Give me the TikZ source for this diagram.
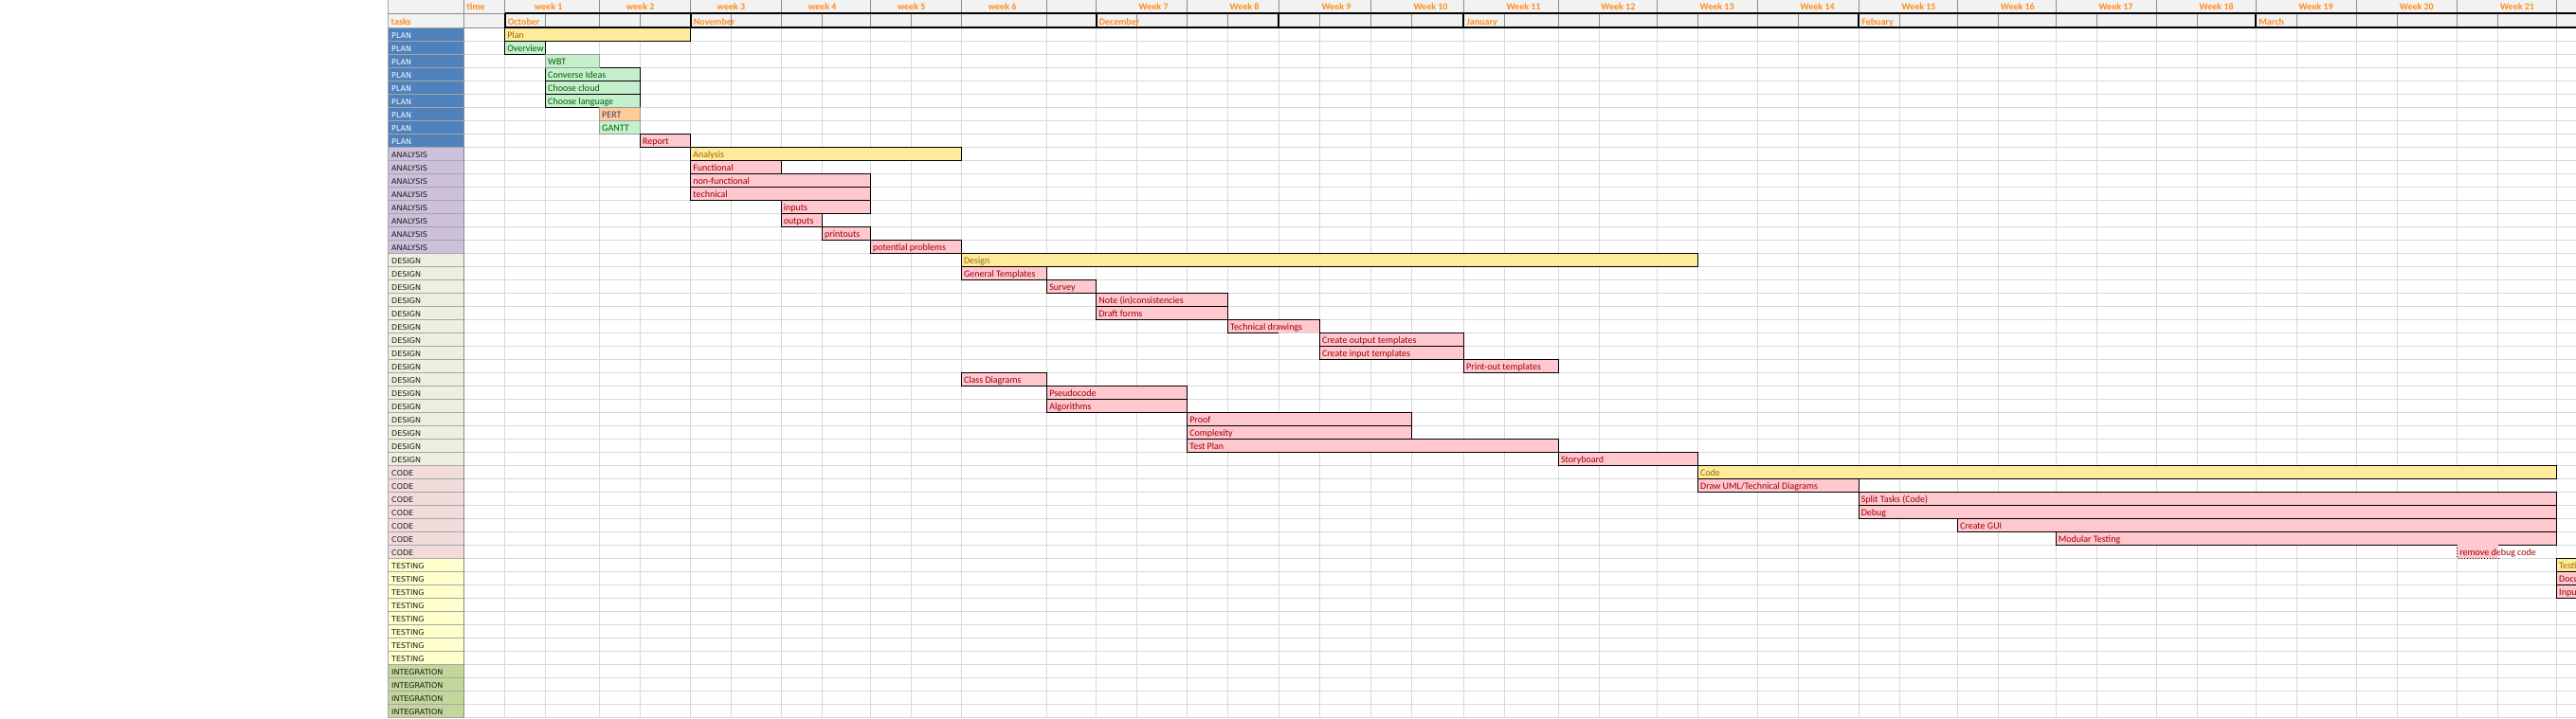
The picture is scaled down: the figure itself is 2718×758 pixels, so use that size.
\documentclass[tikz,border=0pt]{standalone}
\usepackage{fontspec}
\setmainfont{Carlito}
\newfontfamily\catfont{DejaVu Sans}

\definecolor{hdrF}{HTML}{F2F2F2}
\definecolor{hdrT}{HTML}{FF8C1A}
\definecolor{hdrc}{HTML}{8C8C8C}
\definecolor{gridc}{HTML}{D9D9D9}
\definecolor{catline}{HTML}{A6A6A6}
\definecolor{softc}{HTML}{9A9A9A}
\definecolor{yelF}{HTML}{FFEB9C}
\definecolor{yelT}{HTML}{9C6500}
\definecolor{pinkF}{HTML}{FFC7CE}
\definecolor{pinkT}{HTML}{9C0006}
\definecolor{grnF}{HTML}{C6EFCE}
\definecolor{grnT}{HTML}{006100}
\definecolor{orgF}{HTML}{FFCC99}
\definecolor{orgT}{HTML}{3F3F76}
\definecolor{planF}{HTML}{4F81BD}
\definecolor{anaF}{HTML}{CCC0DA}
\definecolor{desF}{HTML}{EBF1DE}
\definecolor{codeF}{HTML}{F2DCDB}
\definecolor{testF}{HTML}{FFFFCC}
\definecolor{intF}{HTML}{C4D79B}
\definecolor{catT}{HTML}{1A1A1A}

% column edges of the week grid (pixels)
\newcommand{\weekcols}{532.6,575.5,632.5,675.5,728.6,771.4,824.1,867.4,918.3,961.6,
  1014.3,1104.6,1156.6,1199.5,1252.6,1295.4,1349.3,1392.3,1446.5,1489.3,1544.4,1587.3,
  1644.4,1687.2,1748.5,1791.4,1854.3,1897.5,1961.1,2004.3,2065.4,2108.6,2169.1,2212.3,
  2275.3,2318.5,2380.2,2423.5,2486.4,2529.6,2592.6,2635.8,2697.5}

\begin{document}
\begin{tikzpicture}[x=1pt, y=-1pt,
    gridline/.style={draw=gridc, line width=1pt},
    hdrline/.style={draw=hdrc, line width=1pt},
    monthline/.style={draw=black, line width=2pt},
    hdrtext/.style={text=hdrT, font=\bfseries\fontsize{10}{12}\selectfont, inner sep=0pt},
    catcell/.style={draw=catline, line width=1pt},
    catlabel/.style={font=\catfont\fontsize{8}{10}\selectfont, inner sep=0pt, anchor=base west},
    bar/.style={draw=black, line width=1.1pt},
    softbar/.style={draw=softc, line width=1pt},
    bartext/.style={font=\fontsize{10}{12}\selectfont, inner sep=0pt, anchor=base west}
]
    \useasboundingbox (0,0) rectangle (2718,758);
    \clip (0,0) rectangle (2718,758);
    \fill[white] (0,0) rectangle (2718,758);

    % header rows
    \fill[hdrF] (409.8,0) rectangle (2718,29.3);
    \draw[hdrline] (409.8,14) -- (532.6,14);
    \draw[hdrline] (409.8,29.3) -- (532.6,29.3);

    % sheet grid
    \foreach \k in {1,...,52}
        \draw[gridline] (489.3,{29.3+14*\k}) -- (2718,{29.3+14*\k});
    \foreach \x in \weekcols
        \draw[gridline] (\x,29.3) -- (\x,758);
    \foreach \x in \weekcols
        \draw[hdrline] (\x,14) -- (\x,29.3);
    \foreach \x in {409.8,489.3,532.6,632.5,728.6,824.1,918.3,1014.3,1104.6,1156.6,1252.6,
        1349.3,1446.5,1544.4,1644.4,1748.5,1854.3,1961.1,2065.4,2169.1,2275.3,2380.2,
        2486.4,2592.6,2697.5}
        \draw[hdrline] (\x,0) -- (\x,14);
    \draw[hdrline] (489.3,14) -- (489.3,29.3);
    \draw[catline, line width=1pt] (409.8,0) -- (409.8,758);

    % task categories
    \foreach \cat/\first/\last/\fc/\tc in {PLAN/0/8/planF/white, ANALYSIS/9/16/anaF/catT,
        DESIGN/17/32/desF/catT, CODE/33/39/codeF/catT, TESTING/40/47/testF/catT,
        INTEGRATION/48/51/intF/catT}
        \foreach \rw in {\first,...,\last} {
            \draw[catcell, fill=\fc] (409.8,{29.3+14*\rw}) rectangle (489.3,{43.3+14*\rw});
            \node[catlabel, text=\tc] (cat\rw) at (413,{40+14*\rw}) {\cat};
        }
    \draw[draw=hdrc, line width=1pt] (489.3,29.3) -- (489.3,758);

    % summary bars
    \foreach \rw/\xa/\xb/\task [count=\n] in {0/532.6/728.6/Plan, 9/728.6/1014.3/Analysis,
        17/1014.3/1791.4/Design, 33/1791.4/2697.5/Code, 40/2697.5/2760/Testi} {
        \draw[bar, fill=yelF] (\xa,{29.3+14*\rw}) rectangle (\xb,{43.3+14*\rw});
        \node[bartext, text=yelT] (sum\n) at (\xa+2.5,{40.5+14*\rw}) {\task};
    }

    % planning tasks
    \foreach \rw/\xa/\xb/\task [count=\n] in {1/532.6/575.5/Overview,
        3/575.5/675.5/Converse Ideas, 4/575.5/675.5/Choose cloud,
        5/575.5/675.5/Choose language} {
        \draw[bar, fill=grnF] (\xa,{29.3+14*\rw}) rectangle (\xb,{43.3+14*\rw});
        \node[bartext, text=grnT] (good\n) at (\xa+2.5,{40.5+14*\rw}) {\task};
    }
    \foreach \rw/\xa/\xb/\fc/\tc/\task [count=\n] in {2/575.5/632.5/grnF/grnT/WBT,
        6/632.5/675.5/orgF/orgT/PERT, 7/632.5/675.5/grnF/grnT/GANTT} {
        \draw[softbar, fill=\fc] (\xa,{29.3+14*\rw}) rectangle (\xb,{43.3+14*\rw});
        \node[bartext, text=\tc] (soft\n) at (\xa+2.5,{40.5+14*\rw}) {\task};
    }

    % work items
    \foreach \rw/\xa/\xb/\task [count=\n] in {8/675.5/728.6/Report,
        10/728.6/824.1/Functional, 11/728.6/918.3/non-functional, 12/728.6/918.3/technical,
        13/824.1/918.3/inputs, 14/824.1/867.4/outputs, 15/867.4/918.3/printouts,
        16/918.3/1014.3/potential problems, 18/1014.3/1104.6/General Templates,
        19/1104.6/1156.6/Survey, 20/1156.6/1295.4/Note (in)consistencies,
        21/1156.6/1295.4/Draft forms, 23/1392.3/1544.4/Create output templates,
        24/1392.3/1544.4/Create input templates, 25/1544.4/1644.4/Print-out templates,
        26/1014.3/1104.6/Class Diagrams, 27/1104.6/1252.6/Pseudocode,
        28/1104.6/1252.6/Algorithms, 29/1252.6/1489.3/Proof, 30/1252.6/1489.3/Complexity,
        31/1252.6/1644.4/Test Plan, 32/1644.4/1791.4/Storyboard,
        34/1791.4/1961.1/{Draw UML/Technical Diagrams}, 35/1961.1/2697.5/Split Tasks (Code),
        36/1961.1/2697.5/Debug, 37/2065.4/2697.5/Create GUI,
        38/2169.1/2697.5/Modular Testing, 41/2697.5/2760/Docu, 42/2697.5/2760/Inpu} {
        \draw[bar, fill=pinkF] (\xa,{29.3+14*\rw}) rectangle (\xb,{43.3+14*\rw});
        \node[bartext, text=pinkT] (bad\n) at (\xa+2.5,{40.5+14*\rw}) {\task};
    }
    \fill[pinkF] (1295.4,337.3) rectangle (1392.3,351.3);
    \draw[bar] (1349.3,351.3) -- (1295.4,351.3) -- (1295.4,337.3) -- (1392.3,337.3) -- (1392.3,351.3);
    \node[bartext, text=pinkT] (techdraw) at (1297.9,348.5) {Technical drawings};
    \fill[pinkF] (2592.6,575.3) rectangle (2635.8,589.3);
    \draw[dotted, line width=1pt] (2592.6,575.3) -- (2592.6,589.3) -- (2635.8,589.3);
    \node[bartext, text=pinkT] (rmdebug) at (2595.1,586.5) {remove debug code};

    % month band
    \draw[monthline] (532.6,14) -- (2718,14);
    \draw[monthline] (532.6,29.3) -- (2718,29.3);
    \foreach \x in {532.6,728.6,1156.6,1349.3,1544.4,1961.1,2380.2}
        \draw[monthline] (\x,14) -- (\x,29.3);
    \foreach \x/\mon [count=\n] in {532.6/October, 728.6/November, 1156.6/December,
        1544.4/January, 1961.1/Febuary, 2380.2/March}
        \node[hdrtext, anchor=base west] (mon\n) at (\x+3,26) {\mon};

    % weeks
    \node[hdrtext, anchor=base west] (time) at (492.5,10.8) {time};
    \node[hdrtext, anchor=base west] (tasks) at (412.5,26) {tasks};
    \foreach \x/\wk [count=\n] in {578.6/week 1, 675.6/week 2, 771.4/week 3,
        867.6/week 4, 961.6/week 5, 1057.6/week 6}
        \node[hdrtext, anchor=base] (wk\n) at (\x,10.8) {\wk};
    \foreach \x/\wk [count=\n from 7] in {1199.5/7, 1295.4/8, 1392.3/9, 1489.3/10,
        1587.3/11, 1687.2/12, 1791.4/13, 1897.5/14, 2004.3/15, 2108.6/16, 2212.3/17,
        2318.5/18, 2423.5/19, 2529.6/20, 2635.8/21}
        \node[hdrtext, anchor=base west] (wk\n) at (\x+2,10.8) {Week \wk};
\end{tikzpicture}
\end{document}
